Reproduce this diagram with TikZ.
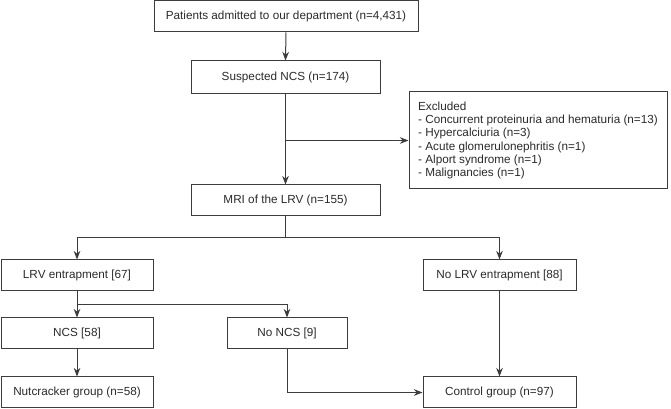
\documentclass[tikz,border=0pt]{standalone}
\usepackage{fontspec}
\setmainfont{Liberation Sans}
\usetikzlibrary{arrows.meta}
\definecolor{linec}{HTML}{3C3C3C}
\definecolor{textc}{HTML}{2A2A2A}
\tikzset{
  box/.style={draw=linec, line width=0.75pt, rectangle, inner sep=0pt,
    minimum width=#1, text=textc, font=\fontsize{8.8}{10}\selectfont},
  conn/.style={draw=linec, line width=0.75pt},
  arr/.style={conn, -{Stealth[length=6.5pt, width=5pt]}}
}
\begin{document}
\begin{tikzpicture}[x=0.75pt, y=-0.75pt]
\useasboundingbox (0,0) rectangle (671,409);
\node[box=198pt, minimum height=23.25pt] (top) at (286,16.5) {Patients admitted to our department (n=4,431)};
\node[box=141.75pt, minimum height=24.75pt] (susp) at (285.5,77.5) {Suspected NCS (n=174)};
\node[box=193.5pt, minimum height=72.75pt, align=left] (excl) at (538,140.5) {Excluded\\- Concurrent proteinuria and hematuria (n=13)\\- Hypercalciuria (n=3)\\- Acute glomerulonephritis (n=1)\\- Alport syndrome (n=1)\\- Malignancies (n=1)};
\node[box=141.75pt, minimum height=23.25pt] (mri) at (285.5,200.5) {MRI of the LRV (n=155)};
\node[box=114pt, minimum height=23.25pt] (lrv) at (77,275.5) {LRV entrapment [67]};
\node[box=114.75pt, minimum height=23.25pt] (nolrv) at (499.5,275.5) {No LRV entrapment [88]};
\node[box=114pt, minimum height=23.25pt] (ncs) at (77,333.5) {NCS [58]};
\node[box=90pt, minimum height=23.25pt] (noncs) at (287,333.5) {No NCS [9]};
\node[box=114pt, minimum height=23.25pt] (nut) at (77,392.5) {Nutcracker group (n=58)};
\node[box=114.75pt, minimum height=23.25pt] (ctrl) at (499.5,392.5) {Control group (n=97)};
\coordinate (j1) at (285.5,140.5);
\coordinate (b1) at (285.5,238);
\coordinate (b2) at (77,305);
\draw[arr] (top.south) -- (susp.north);
\draw[arr] (susp.south) -- (mri.north);
\draw[arr] (j1) -- (excl.west);
\draw[conn] (mri.south) -- (b1);
\draw[arr] (b1) -| (lrv.north);
\draw[arr] (b1) -| (nolrv.north);
\draw[arr] (lrv.south) -- (ncs.north);
\draw[arr] (b2) -| (noncs.north);
\draw[arr] (ncs.south) -- (nut.north);
\draw[arr] (nolrv.south) -- (ctrl.north);
\draw[arr] (noncs.south) |- (ctrl.west);
\end{tikzpicture}
\end{document}
